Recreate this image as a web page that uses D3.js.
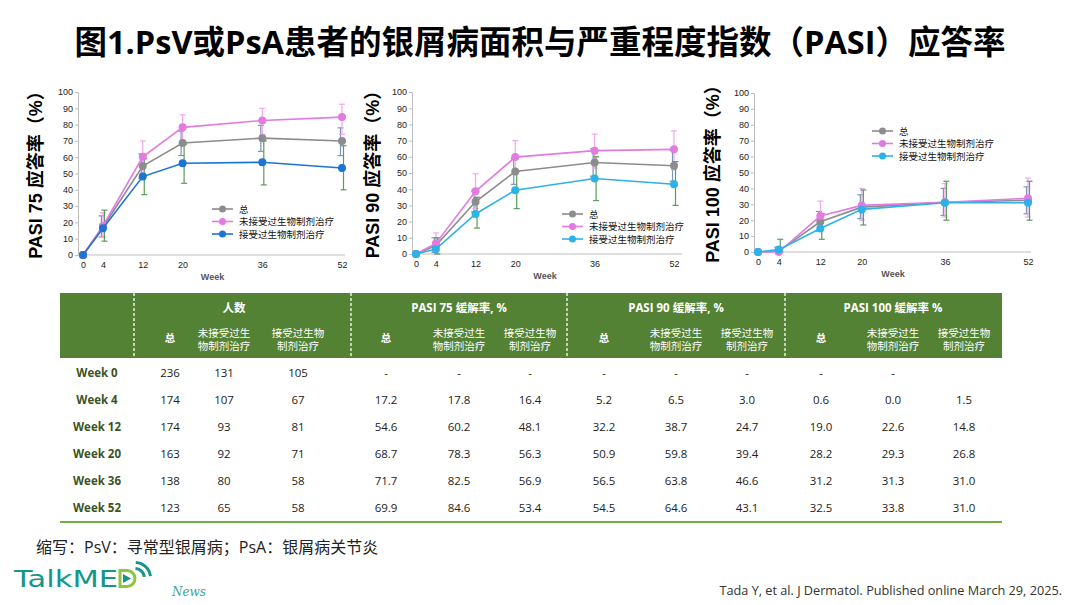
<!DOCTYPE html>
<html>
<head>
<meta charset="utf-8">
<script src="https://cdn.jsdelivr.net/npm/d3@7"></script>
<style>
  body { margin: 0; background: #fff; }
  svg { display: block; }
  text { font-family: "Open Sans", "Noto Sans CJK SC", sans-serif; }
</style>
</head>
<body>
<div id="chart"></div>
<script>
var width = 1080,
	height = 605;

// weeks on the x axis
var weeks = [0, 4, 12, 20, 36, 52];
var seriesNames = ["总", "未接受过生物制剂治疗", "接受过生物制剂治疗"];

// PASI 75 (%)
var p75_total = [0, 17.2, 54.6, 68.7, 71.7, 69.9];
var p75_naive = [0, 17.8, 60.2, 78.3, 82.5, 84.6];
var p75_exp = [0, 16.4, 48.1, 56.3, 56.9, 53.4];
var p75_total_lo = [0, 11, 47, 61, 63.5, 61];
var p75_total_hi = [0, 24, 62, 76, 79.5, 78];
var p75_naive_lo = [0, 11, 50, 70, 74, 74];
var p75_naive_hi = [0, 26, 70, 86, 90, 92.5];
var p75_exp_lo = [0, 8.5, 37, 44, 43, 40];
var p75_exp_hi = [0, 27.5, 59, 68, 70, 67];

// PASI 90 (%)
var p90_total = [0, 5.2, 32.2, 50.9, 56.5, 54.5];
var p90_naive = [0, 6.5, 38.7, 59.8, 63.8, 64.6];
var p90_exp = [0, 3.0, 24.7, 39.4, 46.6, 43.1];
var p90_total_lo = [0, 1, 26, 43, 48, 45];
var p90_total_hi = [0, 10, 39, 59, 65, 64];
var p90_naive_lo = [0, 0, 28, 50, 53, 52];
var p90_naive_hi = [0, 13, 49.5, 70, 74, 76];
var p90_exp_lo = [0, 0, 16, 28, 33, 30];
var p90_exp_hi = [0, 10, 35, 51, 60, 57];

// PASI 100 (%)
var p100_total = [0, 0.6, 19.0, 28.2, 31.2, 32.5];
var p100_naive = [0, 0.0, 22.6, 29.3, 31.3, 33.8];
var p100_exp = [0, 1.5, 14.8, 26.8, 31.0, 31.0];
var p100_total_lo = [0, 0, 13, 21, 23, 24];
var p100_total_hi = [0, 3, 25.5, 36, 40, 41];
var p100_naive_lo = [0, 0, 13, 20, 22, 22];
var p100_naive_hi = [0, 0, 32, 40, 43, 46.5];
var p100_exp_lo = [0, 0, 8, 17, 20, 20];
var p100_exp_hi = [0, 8, 24, 39, 44.5, 44.5];

var yTicks = [0, 10, 20, 30, 40, 50, 60, 70, 80, 90, 100];

// table
var tableGroups = ["人数", "PASI 75 缓解率, %", "PASI 90 缓解率, %", "PASI 100 缓解率 %"];
var tableSub = [["总"], ["未接受过生", "物制剂治疗"], ["接受过生物", "制剂治疗"]];
var rowLabels = ["Week 0", "Week 4", "Week 12", "Week 20", "Week 36", "Week 52"];
var tableRows = [
	["236", "131", "105", "-", "-", "-", "-", "-", "-", "-", "-", ""],
	["174", "107", "67", "17.2", "17.8", "16.4", "5.2", "6.5", "3.0", "0.6", "0.0", "1.5"],
	["174", "93", "81", "54.6", "60.2", "48.1", "32.2", "38.7", "24.7", "19.0", "22.6", "14.8"],
	["163", "92", "71", "68.7", "78.3", "56.3", "50.9", "59.8", "39.4", "28.2", "29.3", "26.8"],
	["138", "80", "58", "71.7", "82.5", "56.9", "56.5", "63.8", "46.6", "31.2", "31.3", "31.0"],
	["123", "65", "58", "69.9", "84.6", "53.4", "54.5", "64.6", "43.1", "32.5", "33.8", "31.0"]
];

var svg = d3.select("#chart").append("svg")
	.attr("width", width)
	.attr("height", height);

// title
svg.append("text")
	.attr("x", 540).attr("y", 54)
	.attr("text-anchor", "middle")
	.style("font-size", "32.5px")
	.style("font-weight", "bold")
	.attr("fill", "#000")
	.text("图1.PsV或PsA患者的银屑病面积与严重程度指数（PASI）应答率");

var grayC = "#8c8c8c", pinkC = "#e27be0";

var charts = [
	{ title: "PASI 75 应答率（%）", axisX: 78, x0: 83, x52: 342, xEnd: 345, yTop: 92, yBot: 255, titleX: 42,
	  blue: "#1d74d2", legX: 212, legY: 209,
	  series: [[p75_total, p75_total_lo, p75_total_hi], [p75_naive, p75_naive_lo, p75_naive_hi], [p75_exp, p75_exp_lo, p75_exp_hi]] },
	{ title: "PASI 90 应答率（%）", axisX: 412, x0: 416, x52: 674, xEnd: 682, yTop: 92, yBot: 254, titleX: 379,
	  blue: "#2cb2e8", legX: 562, legY: 214,
	  series: [[p90_total, p90_total_lo, p90_total_hi], [p90_naive, p90_naive_lo, p90_naive_hi], [p90_exp, p90_exp_lo, p90_exp_hi]] },
	{ title: "PASI 100 应答率（%）", axisX: 754, x0: 758, x52: 1028, xEnd: 1031, yTop: 93, yBot: 252, titleX: 719,
	  blue: "#2cb2e8", legX: 872, legY: 131,
	  series: [[p100_total, p100_total_lo, p100_total_hi], [p100_naive, p100_naive_lo, p100_naive_hi], [p100_exp, p100_exp_lo, p100_exp_hi]] }
];

charts.forEach(function(c){
	var x = d3.scaleLinear().domain([0, 52]).range([c.x0, c.x52]);
	var y = d3.scaleLinear().domain([0, 100]).range([c.yBot, c.yTop]);
	var g = svg.append("g");

	// y axis
	var yAxis = g.append("g")
		.attr("transform", "translate(" + c.axisX + ",0)")
		.call(d3.axisLeft(y).tickValues(yTicks).tickSize(3).tickPadding(2));
	yAxis.select(".domain").attr("stroke", "#bfbfbf");
	yAxis.selectAll(".tick line").attr("stroke", "#bfbfbf");
	yAxis.selectAll(".tick text").attr("fill", "#222").style("font-size", "9px")
		.style("font-family", "Arial, 'Liberation Sans', sans-serif");

	// x axis
	g.append("line").attr("x1", c.axisX).attr("x2", c.xEnd)
		.attr("y1", c.yBot).attr("y2", c.yBot).attr("stroke", "#bfbfbf");
	var xAxis = g.append("g")
		.attr("transform", "translate(0," + c.yBot + ")")
		.call(d3.axisBottom(x).tickValues(weeks).tickSize(0).tickPadding(7));
	xAxis.select(".domain").remove();
	xAxis.selectAll(".tick text").attr("fill", "#222").style("font-size", "9px")
		.style("font-family", "Arial, 'Liberation Sans', sans-serif");

	g.append("text")
		.attr("x", (c.x0 + c.x52) / 2).attr("y", c.yBot + 25)
		.attr("text-anchor", "middle")
		.style("font-size", "9px").style("font-weight", "bold")
		.style("font-family", "Arial, 'Liberation Sans', sans-serif")
		.attr("fill", "#555").text("Week");

	// y title
	g.append("text")
		.attr("transform", "translate(" + c.titleX + "," + ((c.yTop + c.yBot) / 2 - 3) + ") rotate(-90)")
		.attr("text-anchor", "middle")
		.style("font-size", "18px").style("font-weight", "bold")
		.style("font-family", "Arial, 'Noto Sans CJK SC', sans-serif")
		.attr("fill", "#000").text(c.title);

	var colors = [grayC, pinkC, c.blue];
	var barColors = ["#7b96b5", "#f2a6ef", "#5c9a5c"];
	var offsets = [-1.5, 0, 1.5];

	// error bars
	c.series.forEach(function(s, k){
		var bars = g.append("g");
		weeks.forEach(function(w, i){
			if (s[2][i] - s[1][i] <= 0.5) return;
			var bx = x(w) + offsets[k];
			bars.append("line").attr("x1", bx).attr("x2", bx)
				.attr("y1", y(s[1][i])).attr("y2", y(s[2][i]))
				.attr("stroke", barColors[k]).attr("stroke-width", 1.2);
			[s[1][i], s[2][i]].forEach(function(v){
				bars.append("line").attr("x1", bx - 3).attr("x2", bx + 3)
					.attr("y1", y(v)).attr("y2", y(v))
					.attr("stroke", barColors[k]).attr("stroke-width", 1.2);
			});
		});
	});

	// lines and markers
	var line = d3.line().x(function(d, i){ return x(weeks[i]); }).y(function(d){ return y(d); });
	c.series.forEach(function(s, k){
		g.append("path").datum(s[0])
			.attr("d", line).attr("fill", "none")
			.attr("stroke", colors[k]).attr("stroke-width", 1.6);
		g.selectAll(null).data(s[0]).enter().append("circle")
			.attr("cx", function(d, i){ return x(weeks[i]); })
			.attr("cy", function(d){ return y(d); })
			.attr("r", 4)
			.attr("fill", colors[k]);
	});

	// legend
	seriesNames.forEach(function(n, k){
		var ly = c.legY + k * 12.5;
		g.append("line").attr("x1", c.legX).attr("x2", c.legX + 21)
			.attr("y1", ly).attr("y2", ly)
			.attr("stroke", colors[k]).attr("stroke-width", 1.6);
		g.append("circle").attr("cx", c.legX + 10.5).attr("cy", ly).attr("r", 3.5).attr("fill", colors[k]);
		g.append("text").attr("x", c.legX + 27).attr("y", ly + 3.5)
			.style("font-size", "9.5px").style("font-family", "'Noto Sans CJK SC', sans-serif")
			.attr("fill", "#111").text(n);
	});
});

// ---- table ----
var colCenters = [170, 224, 298, 386, 459, 530, 604, 676, 747, 821, 893, 964];
var groupCenters = [234, 459, 676, 893];
var dividers = [134, 351, 567, 785];
var tableLeft = 60, tableRight = 1002, headTop = 293, headBot = 358;
var rowY = d3.scaleBand().domain(rowLabels).range([359, 521]);

var tg = svg.append("g");
tg.append("rect").attr("x", tableLeft).attr("y", headTop)
	.attr("width", tableRight - tableLeft).attr("height", headBot - headTop)
	.attr("fill", "#548235");

dividers.forEach(function(dx){
	tg.append("line").attr("x1", dx).attr("x2", dx)
		.attr("y1", headTop).attr("y2", headBot)
		.attr("stroke", "#fff").attr("stroke-width", 1.3)
		.attr("stroke-dasharray", "3,2");
});

tableGroups.forEach(function(t, i){
	tg.append("text").attr("x", groupCenters[i]).attr("y", 312)
		.attr("text-anchor", "middle")
		.style("font-size", "11.5px").style("font-weight", "bold")
		.attr("fill", "#fff").text(t);
});

colCenters.forEach(function(cx, i){
	var lines = tableSub[i % 3];
	lines.forEach(function(t, j){
		var ty = lines.length === 1 ? 342 : 337 + j * 13;
		tg.append("text").attr("x", cx).attr("y", ty)
			.attr("text-anchor", "middle")
			.style("font-size", "10.5px")
			.style("font-weight", lines.length === 1 ? "bold" : "normal")
			.attr("fill", "#fff").text(t);
	});
});

rowLabels.forEach(function(r, i){
	var cy = rowY(r) + rowY.bandwidth() / 2 + 4;
	tg.append("text").attr("x", 97).attr("y", cy)
		.attr("text-anchor", "middle")
		.style("font-size", "11.5px").style("font-weight", "bold")
		.attr("fill", "#3b5323").text(r);
	tableRows[i].forEach(function(v, j){
		tg.append("text").attr("x", colCenters[j]).attr("y", cy)
			.attr("text-anchor", "middle")
			.style("font-size", "11.5px")
			.attr("fill", "#222").text(v);
	});
});

tg.append("line").attr("x1", tableLeft).attr("x2", tableRight)
	.attr("y1", 522).attr("y2", 522)
	.attr("stroke", "#70ad47").attr("stroke-width", 2);

// footnotes
svg.append("text").attr("x", 36).attr("y", 553)
	.style("font-size", "16px")
	.attr("fill", "#222").text("缩写：PsV：寻常型银屑病；PsA：银屑病关节炎");

svg.append("text").attr("x", 1062).attr("y", 595)
	.attr("text-anchor", "end")
	.style("font-size", "12.7px")
	.attr("fill", "#333").text("Tada Y, et al. J Dermatol. Published online March 29, 2025.");

// logo
var logo = svg.append("g");
logo.append("text").attr("x", 14).attr("y", 587)
	.attr("textLength", 104).attr("lengthAdjust", "spacingAndGlyphs")
	.style("font-size", "23px").style("font-family", "'DejaVu Sans', sans-serif")
	.attr("fill", "#16968a").text("TalkME");
// D with play icon
logo.append("path")
	.attr("d", "M120,570.5 L127,570.5 A8,8 0 0 1 127,586.5 L120,586.5 Z")
	.attr("fill", "none").attr("stroke", "#8cc63f").attr("stroke-width", 3);
logo.append("path").attr("d", "M123,574 L131,578.5 L123,583 Z").attr("fill", "#16968a");
[8, 14].forEach(function(r){
	logo.append("path")
		.attr("d", d3.arc()({ innerRadius: r, outerRadius: r + 3, startAngle: 0.05, endAngle: 1.45 }))
		.attr("transform", "translate(135,578)")
		.attr("fill", "#16968a");
});
logo.append("text").attr("x", 172).attr("y", 596)
	.style("font-size", "12px").style("font-style", "italic")
	.style("font-family", "'DejaVu Serif', serif")
	.attr("fill", "#3aa59a").text("News");
</script>
</body>
</html>
